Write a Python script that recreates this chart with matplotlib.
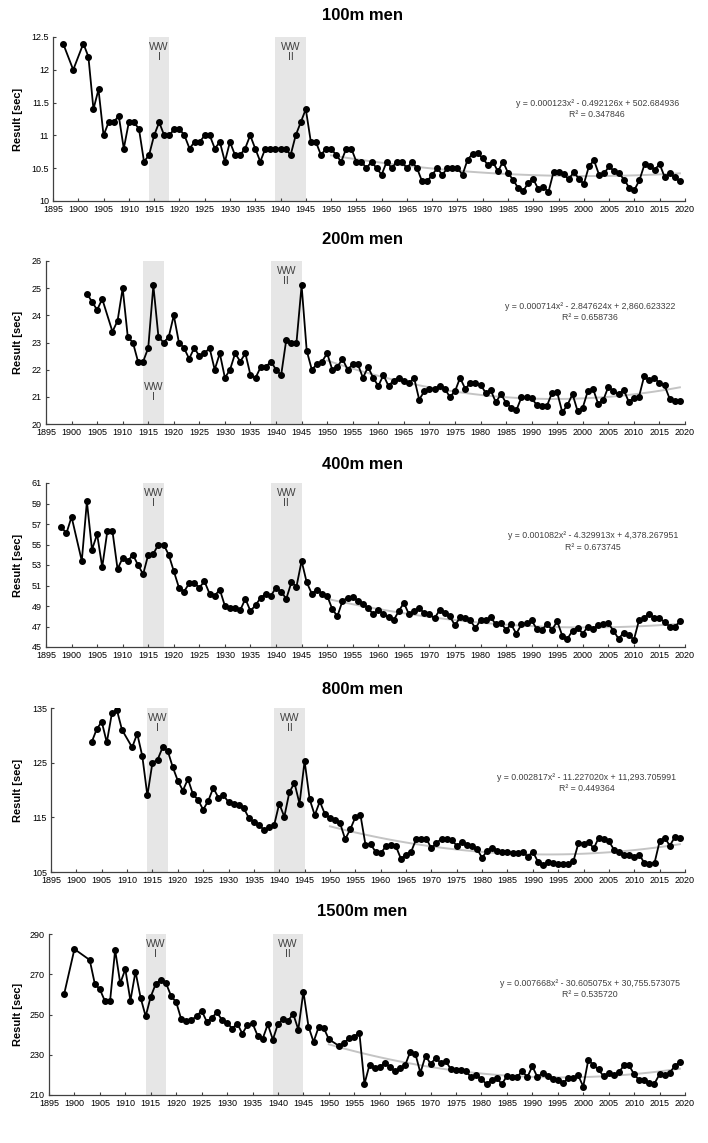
import numpy as np
import matplotlib
matplotlib.use('Agg')
import matplotlib.pyplot as plt
from matplotlib.ticker import FormatStrFormatter

plt.rcParams['font.family'] = ['Liberation Sans', 'DejaVu Sans']

# years 1895..2019, None = no result that year
years = np.arange(1895, 2020)

m100 = [None, None, 12.4, None, 12.0,
        None, 12.4, 12.2, 11.4, 11.7,
        11.0, 11.2, 11.2, 11.3, 10.8,
        11.2, 11.2, 11.1, 10.6, 10.7,
        11.0, 11.2, 11.0, 11.0, 11.1,
        11.1, 11.0, 10.8, 10.9, 10.9,
        11.0, 11.0, 10.8, 10.9, 10.6,
        10.9, 10.7, 10.7, 10.8, 11.0,
        10.8, 10.6, 10.8, 10.8, 10.8,
        10.8, 10.8, 10.7, 11.0, 11.2,
        11.4, 10.9, 10.9, 10.7, 10.8,
        10.8, 10.7, 10.6, 10.8, 10.8,
        10.6, 10.6, 10.5, 10.6, 10.5,
        10.4, 10.6, 10.5, 10.6, 10.6,
        10.5, 10.6, 10.5, 10.3, 10.3,
        10.4, 10.5, 10.4, 10.5, 10.5,
        10.5, 10.4, 10.63, 10.72, 10.73,
        10.65, 10.55, 10.6, 10.45, 10.6,
        10.43, 10.32, 10.2, 10.15, 10.28,
        10.33, 10.18, 10.21, 10.14, 10.44,
        10.44, 10.41, 10.33, 10.44, 10.34,
        10.26, 10.53, 10.62, 10.4, 10.42,
        10.53, 10.45, 10.42, 10.32, 10.2,
        10.17, 10.32, 10.56, 10.53, 10.48,
        10.56, 10.36, 10.42, 10.36, 10.3]

m200 = [None, None, None, None, None,
        None, None, None, 24.8, 24.5,
        24.2, 24.6, None, 23.4, 23.8,
        25.0, 23.2, 23.0, 22.3, 22.3,
        22.8, 25.1, 23.2, 23.0, 23.2,
        24.0, 23.0, 22.8, 22.4, 22.8,
        22.5, 22.6, 22.8, 22.0, 22.6,
        21.7, 22.0, 22.6, 22.3, 22.6,
        21.8, 21.7, 22.1, 22.1, 22.3,
        22.0, 21.8, 23.1, 23.0, 23.0,
        25.1, 22.7, 22.0, 22.2, 22.3,
        22.6, 22.0, 22.1, 22.4, 22.0,
        22.2, 22.2, 21.7, 22.1, 21.7,
        21.4, 21.8, 21.4, 21.6, 21.7,
        21.6, 21.5, 21.7, 20.9, 21.2,
        21.3, 21.3, 21.4, 21.3, 21.0,
        21.2, 21.7, 21.3, 21.5, 21.5,
        21.45, 21.15, 21.24, 20.8, 21.1,
        20.78, 20.6, 20.5, 20.98, 21.0,
        20.95, 20.7, 20.66, 20.67, 21.15,
        21.16, 20.43, 20.7, 21.1, 20.47,
        20.6, 21.22, 21.3, 20.75, 20.87,
        21.37, 21.2, 21.1, 21.26, 20.82,
        20.97, 21.0, 21.75, 21.62, 21.7,
        21.5, 21.42, 20.93, 20.83, 20.83]

m400 = [None, None, None, 56.7, 56.1,
        57.7, None, 53.4, 59.2, 54.5,
        56.0, 52.8, 56.3, 56.3, 52.6,
        53.7, 53.4, 54.0, 53.0, 52.1,
        54.0, 54.1, 55.0, 55.0, 54.0,
        52.4, 50.8, 50.4, 51.2, 51.2,
        50.8, 51.4, 50.2, 50.0, 50.6,
        49.0, 48.8, 48.8, 48.6, 49.7,
        48.5, 49.1, 49.8, 50.2, 50.0,
        50.8, 50.4, 49.7, 51.3, 50.9,
        53.4, 51.3, 50.2, 50.6, 50.2,
        50.0, 48.7, 48.0, 49.5, 49.8,
        49.9, 49.5, 49.2, 48.8, 48.2,
        48.6, 48.25, 47.9, 47.6, 48.5,
        49.3, 48.2, 48.5, 48.8, 48.3,
        48.2, 47.8, 48.6, 48.3, 48.0,
        47.1, 47.9, 47.85, 47.6, 46.85,
        47.6, 47.6, 47.9, 47.2, 47.3,
        46.7, 47.2, 46.3, 47.2, 47.3,
        47.6, 46.75, 46.7, 47.2, 46.7,
        47.5, 46.1, 45.8, 46.6, 46.9,
        46.3, 47.0, 46.8, 47.1, 47.25,
        47.3, 46.6, 45.8, 46.4, 46.2,
        45.7, 47.6, 47.85, 48.25, 47.8,
        47.8, 47.45, 47.0, 46.95, 47.5]

m800 = [None, None, None, None, None,
        None, None, None, 128.7, 131.1,
        132.5, 128.7, 134.0, 134.6, 131.0,
        None, 127.8, 130.3, 126.2, 119.0,
        125.0, 125.5, 127.8, 127.2, 124.2,
        121.7, 119.9, 122.0, 119.2, 118.2,
        116.4, 118.0, 120.4, 118.6, 119.0,
        117.8, 117.5, 117.2, 116.7, 114.9,
        114.1, 113.6, 112.7, 113.2, 113.6,
        117.5, 115.1, 119.6, 121.3, 117.5,
        125.3, 118.3, 115.4, 117.9, 115.6,
        114.9, 114.6, 113.9, 111.0, 112.8,
        115.0, 115.5, 110.0, 110.1, 108.7,
        108.4, 109.7, 109.9, 109.7, 107.4,
        108.2, 108.7, 111.0, 111.1, 111.1,
        109.3, 110.3, 111.1, 111.0, 110.9,
        109.8, 110.4, 110.0, 109.7, 109.2,
        107.6, 108.9, 109.4, 108.8, 108.7,
        108.7, 108.5, 108.4, 108.7, 107.8,
        108.7, 106.9, 106.2, 106.9, 106.7,
        106.4, 106.5, 106.5, 107.0, 110.3,
        110.2, 110.5, 109.3, 111.3, 111.1,
        110.6, 109.1, 108.7, 108.2, 108.2,
        107.8, 108.2, 106.6, 106.5, 106.7,
        110.6, 111.3, 109.8, 111.4, 111.2]

m1500 = [None, None, None, 260.4, None,
         282.5, None, None, 277.1, 265.3,
         262.5, 256.6, 256.6, 282.1, 265.5,
         272.5, 256.9, 271.3, 258.4, 249.1,
         258.9, 265.3, 267.2, 265.5, 259.2,
         256.1, 247.6, 246.7, 247.3, 249.1,
         251.9, 246.5, 248.3, 251.1, 247.3,
         246.0, 243.0, 245.5, 240.5, 244.8,
         245.6, 239.5, 238.0, 245.1, 237.5,
         245.3, 247.6, 247.0, 250.3, 242.5,
         261.4, 244.0, 236.4, 243.8, 243.3,
         237.7, None, 234.4, 236.0, 238.2,
         239.0, 241.0, 215.5, 225.0, 223.2,
         224.0, 225.8, 224.0, 221.8, 223.2,
         224.8, 231.5, 230.5, 221.0, 229.5,
         225.5, 228.3, 226.0, 226.8, 222.7,
         222.3, 222.2, 221.7, 218.7, 219.7,
         218.0, 215.3, 217.5, 218.5, 215.3,
         219.5, 218.7, 218.8, 222.0, 218.8,
         224.3, 218.8, 221.0, 219.2, 218.0,
         217.5, 215.8, 218.3, 218.5, 219.8,
         214.2, 227.5, 224.8, 222.7, 219.3,
         221.0, 219.8, 221.3, 224.7, 224.7,
         220.3, 217.3, 217.5, 215.8, 215.7,
         220.3, 219.7, 221.0, 224.5, 226.3]

titles = ['100m men', '200m men', '400m men', '800m men', '1500m men']
series = [m100, m200, m400, m800, m1500]
ylims = [(10, 12.5), (20, 26), (45, 61), (105, 135), (210, 290)]
ysteps = [0.5, 1, 2, 10, 20]
equations = ['y = 0.000123x\u00b2 - 0.492126x + 502.684936\nR\u00b2 = 0.347846',
             'y = 0.000714x\u00b2 - 2.847624x + 2,860.623322\nR\u00b2 = 0.658736',
             'y = 0.001082x\u00b2 - 4.329913x + 4,378.267951\nR\u00b2 = 0.673745',
             'y = 0.002817x\u00b2 - 11.227020x + 11,293.705991\nR\u00b2 = 0.449364',
             'y = 0.007668x\u00b2 - 30.605075x + 30,755.573075\nR\u00b2 = 0.535720']
eq_pos = [(0.861, 0.56), (0.852, 0.685), (0.856, 0.643), (0.845, 0.543), (0.85, 0.658)]
ww1 = (1914, 1918)
ww2 = (1939, 1945)
trend_from = 1950

# axes boxes in pixels: left, right, top, bottom
W, H = 708, 1143
boxes = [(53, 685, 37, 201),
         (46, 685, 261, 424),
         (46, 685, 483, 647),
         (51, 685, 708, 872),
         (49, 685, 934, 1095)]
title_y = [16, 240, 464, 689, 912]

fig = plt.figure(figsize=(W / 100, H / 100), dpi=100)

for i in range(5):
    l, r, t, b = boxes[i]
    ax = fig.add_axes([l / W, 1 - b / H, (r - l) / W, (b - t) / H])
    v = np.array(series[i], dtype=float)
    ok = ~np.isnan(v)
    x = years[ok]
    y = v[ok]

    # war periods
    ax.axvspan(ww1[0], ww1[1], color='#e6e6e6', lw=0, zorder=0)
    ax.axvspan(ww2[0], ww2[1], color='#e6e6e6', lw=0, zorder=0)

    # polynomial trend from 1950
    sel = x >= trend_from
    coef = np.polyfit(x[sel], y[sel], 2)
    xt = np.arange(trend_from, 2020)
    ax.plot(xt, np.polyval(coef, xt), color='#c4c4c4', lw=1.4, zorder=1)

    ax.plot(x, y, color='black', lw=1.3, marker='o', markersize=4, zorder=2)

    ax.set_xlim(1895, 2020)
    ax.set_ylim(*ylims[i])
    ax.set_xticks(np.arange(1895, 2021, 5))
    ax.set_yticks(np.arange(ylims[i][0], ylims[i][1] + 1e-9, ysteps[i]))
    ax.yaxis.set_major_formatter(FormatStrFormatter('%g'))
    ax.tick_params(direction='in', length=2.5, width=0.8, labelsize=6.5,
                   color='#404040', pad=3)
    for s in ['top', 'right']:
        ax.spines[s].set_visible(False)
    for s in ['left', 'bottom']:
        ax.spines[s].set_color('#404040')
        ax.spines[s].set_linewidth(0.9)

    # WW labels
    if i == 1:
        ax.text(1916, 21.55, 'WW\nI', ha='center', va='top', fontsize=7.5,
                color='#404040', linespacing=1.0)
    else:
        ax.text(1916, 0.97, 'WW\nI', ha='center', va='top', fontsize=7.5,
                color='#404040', linespacing=1.0, transform=ax.get_xaxis_transform())
    ax.text(1942, 0.97, 'WW\nII', ha='center', va='top', fontsize=7.5,
            color='#404040', linespacing=1.0, transform=ax.get_xaxis_transform())

    ax.text(eq_pos[i][0], eq_pos[i][1], equations[i], ha='center', va='center',
            fontsize=6.3, color='#404040', linespacing=1.3, transform=ax.transAxes)

    fig.text(362 / W, 1 - title_y[i] / H, titles[i], ha='center', va='center',
             fontsize=12, fontweight='bold')
    fig.text(18 / W, 1 - (t + b) / 2 / H, 'Result [sec]', ha='center', va='center',
             rotation=90, fontsize=8, fontweight='bold')

fig.savefig('out.png', dpi=100)
